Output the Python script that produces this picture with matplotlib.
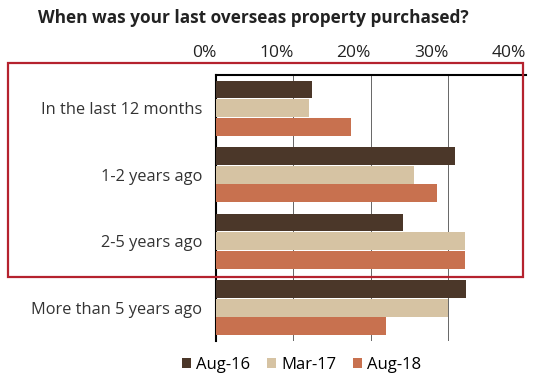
import matplotlib.pyplot as plt
import matplotlib.patches as patches
import numpy as np

plt.rcParams['font.family'] = ['Open Sans', 'DejaVu Sans']

categories = ['In the last 12 months', '1-2 years ago', '2-5 years ago', 'More than 5 years ago']
series_names = ['Aug-16', 'Mar-17', 'Aug-18']
aug16 = [12.4, 30.9, 24.2, 32.3]
mar17 = [12.0, 25.6, 32.2, 29.9]
aug18 = [17.4, 28.5, 32.1, 21.9]
colors = ['#4b3729', '#d6c3a3', '#c8714f']

fig = plt.figure(figsize=(5.54, 3.80), dpi=100)
ax = fig.add_axes([0.39, 0.103, 0.559, 0.700])

y = np.arange(len(categories))
h = 0.28
for i, (vals, name) in enumerate(zip([aug16, mar17, aug18], series_names)):
    ax.barh(y + (i - 1) * h, vals, height=h * 0.96, color=colors[i], label=name, zorder=3)

ax.set_xlim(0, 40)
ax.set_ylim(3.5, -0.5)
ax.set_xticks([0, 10, 20, 30, 40])
ax.set_xticklabels(['0%', '10%', '20%', '30%', '40%'], fontsize=12.5, color='#222222', ha='right')
ax.xaxis.tick_top()
ax.tick_params(axis='x', length=0, pad=10)
ax.tick_params(axis='y', length=0, pad=10)
ax.set_yticks(y)
ax.set_yticklabels(categories, fontsize=11.8, color='#333333')
ax.grid(axis='x', color='#666666', linewidth=0.7, zorder=0)
ax.spines['bottom'].set_visible(False)
ax.spines['right'].set_visible(False)
ax.spines['top'].set_linewidth(1.5)
ax.spines['left'].set_linewidth(1.5)

fig.text(0.068, 0.952, 'When was your last overseas property purchased?', fontsize=12.4,
         fontweight='bold', color='#222222', va='center')

fig.legend(loc='center', bbox_to_anchor=(0.545, 0.04), ncol=3, frameon=False, fontsize=12,
           handlelength=0.55, handleheight=0.55, handletextpad=0.3, columnspacing=1.0)

rect = patches.Rectangle((0.0144, 0.271), 0.93, 0.563, transform=fig.transFigure,
                         fill=False, edgecolor='#b5222e', linewidth=1.6, zorder=10)
fig.patches.append(rect)

fig.savefig('out.png', dpi=100)
